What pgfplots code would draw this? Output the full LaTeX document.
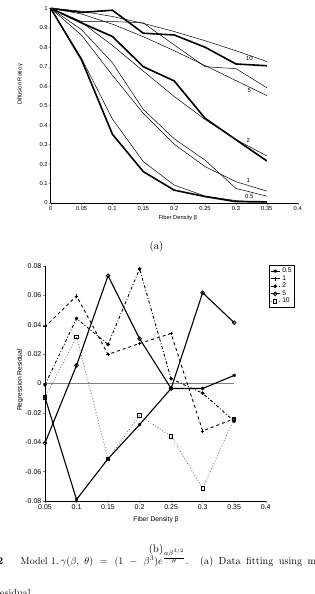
\documentclass[border=0pt]{standalone}
\usepackage{pgfplots}
\pgfplotsset{compat=1.18}
\usepackage{fontspec}
\newfontfamily\helv{Liberation Sans}
\begin{document}
\begin{tikzpicture}[x=1pt,y=1pt]
\path[use as bounding box] (0,0) rectangle (314,594);
\clip (0,0) rectangle (314,594);

% ---------------- (a) ----------------
\begin{axis}[
 at={(50.7pt,391pt)}, anchor=south west,
 scale only axis, width=247pt, height=194.7pt,
 xmin=0, xmax=0.4, ymin=0, ymax=1,
 axis x line*=bottom, axis y line*=left,
 axis line style={line width=0.5pt},
 tick align=outside, major tick length=1.8pt,
 tick style={line width=0.4pt},
 xtick={0,0.05,0.1,0.15,0.2,0.25,0.3,0.35,0.4},
 ytick={0,0.1,0.2,0.3,0.4,0.5,0.6,0.7,0.8,0.9,1},
 scaled ticks=false,
 /pgf/number format/assume math mode=true,
 /pgf/number format/fixed,
 /pgf/number format/precision=2,
 tick label style={font=\helv\fontsize{5.8}{6}\selectfont},
 xticklabel style={inner sep=1pt},
 yticklabel style={inner sep=1pt},
 xlabel={Fiber Density β}, ylabel={Diffusion Ratio γ},
 label style={font=\helv\fontsize{5.7}{6}\selectfont},
 xlabel style={at={(axis description cs:0.515,-0.077)}, anchor=center},
 ylabel style={at={(axis description cs:-0.124,0.611)}, anchor=center},
 clip=false,
]
% data (thick)
\addplot[black, line width=1.6pt] coordinates {(0,1) (0.05,0.735) (0.1,0.353) (0.15,0.161) (0.2,0.066) (0.25,0.033) (0.3,0.007) (0.35,0.006)};
\addplot[black, line width=1.6pt] coordinates {(0,1) (0.05,0.925) (0.1,0.855) (0.15,0.70) (0.2,0.627) (0.25,0.435) (0.3,0.325) (0.35,0.216)};
\addplot[black, line width=1.6pt] coordinates {(0,1) (0.05,0.979) (0.1,0.99) (0.15,0.872) (0.2,0.863) (0.25,0.80) (0.3,0.714) (0.35,0.705)};
% data (thin)
\addplot[black, line width=0.5pt] coordinates {(0,1) (0.05,0.89) (0.1,0.72) (0.15,0.48) (0.2,0.33) (0.25,0.22) (0.3,0.075) (0.35,0.035)};
\addplot[black, line width=0.5pt] coordinates {(0,1) (0.05,0.932) (0.1,0.932) (0.15,0.925) (0.2,0.812) (0.25,0.70) (0.3,0.69) (0.35,0.592)};
% fits
\addplot[black, line width=0.5pt] coordinates {(0,1) (0.05,0.7427) (0.1,0.4308) (0.15,0.2126) (0.2,0.0919) (0.25,0.0354) (0.3,0.0123) (0.35,0.0039)};
\addplot[black, line width=0.5pt] coordinates {(0,1) (0.05,0.8617) (0.1,0.6560) (0.15,0.4602) (0.2,0.3020) (0.25,0.1867) (0.3,0.1094) (0.35,0.0610)};
\addplot[black, line width=0.5pt] coordinates {(0,1) (0.05,0.9282) (0.1,0.8095) (0.15,0.6773) (0.2,0.5473) (0.25,0.4287) (0.3,0.3262) (0.35,0.2416)};
\addplot[black, line width=0.5pt] coordinates {(0,1) (0.05,0.9706) (0.1,0.9184) (0.15,0.8539) (0.2,0.7820) (0.25,0.7059) (0.3,0.6285) (0.35,0.5518)};
\addplot[black, line width=0.5pt] coordinates {(0,1) (0.05,0.9851) (0.1,0.9578) (0.15,0.9225) (0.2,0.8807) (0.25,0.8336) (0.3,0.7820) (0.35,0.7267)};
\begin{scope}[every node/.style={font=\helv\fontsize{6}{6}\selectfont, inner sep=0pt}]
\node at (axis cs:0.3216,0.740) {10};
\node at (axis cs:0.3216,0.577) {5};
\node at (axis cs:0.32,0.320) {2};
\node at (axis cs:0.32,0.118) {1};
\node at (axis cs:0.3216,0.036) {0.5};
\end{scope}
\end{axis}

\node[font=\fontsize{10.8}{13}\selectfont] at (156.5pt,347pt) {(a)};

% ---------------- (b) ----------------
\begin{axis}[
 at={(45pt,93pt)}, anchor=south west,
 scale only axis, width=220.7pt, height=235pt,
 xmin=0.05, xmax=0.4, ymin=-0.08, ymax=0.08,
 axis x line*=bottom, axis y line*=left,
 axis line style={line width=0.5pt},
 tick align=outside, major tick length=2pt,
 tick style={line width=0.4pt},
 xtick={0.05,0.1,0.15,0.2,0.25,0.3,0.35,0.4},
 ytick={-0.08,-0.06,-0.04,-0.02,0,0.02,0.04,0.06,0.08},
 scaled ticks=false,
 /pgf/number format/assume math mode=true,
 /pgf/number format/fixed,
 /pgf/number format/precision=2,
 tick label style={font=\helv\fontsize{7}{7}\selectfont},
 xticklabel style={inner sep=1.2pt},
 yticklabel style={inner sep=1.5pt},
 xlabel={Fiber Density β}, ylabel={Regression Residual},
 label style={font=\helv\fontsize{6.7}{7}\selectfont},
 xlabel style={at={(axis description cs:0.503,-0.081)}, anchor=center},
 ylabel style={at={(axis description cs:-0.113,0.515)}, anchor=center},
 clip=false,
 legend style={at={(axis description cs:1.015,1.004)}, anchor=north west,
   font=\helv\fontsize{6.7}{7}\selectfont, draw=black, line width=0.5pt,
   inner sep=0.8pt, row sep=-2.6pt, cells={anchor=west}},
 legend image code/.code={\draw[mark repeat=2,mark phase=2] plot coordinates {(0cm,0cm) (0.16cm,0cm) (0.32cm,0cm)};},
]
\addplot[gray, line width=0.5pt, forget plot] coordinates {(0.05,0) (0.35,0)};
\addplot[black, line width=1.1pt, mark=asterisk, mark size=1.8pt, mark options={solid, line width=0.8pt}] coordinates {(0.05,-0.0095) (0.1,-0.079) (0.15,-0.0512) (0.2,-0.028) (0.25,-0.0034) (0.3,-0.0034) (0.35,0.0055)};
\addplot[black, line width=0.9pt, dashed, mark=+, mark size=1.8pt, mark options={solid, line width=0.7pt}] coordinates {(0.05,0.0386) (0.1,0.0596) (0.15,0.0198) (0.2,0.0273) (0.25,0.0340) (0.3,-0.0323) (0.35,-0.0240)};
\addplot[black, line width=0.9pt, dash dot, mark=*, mark size=1.3pt, mark options={solid}] coordinates {(0.05,-0.0009) (0.1,0.0443) (0.15,0.0266) (0.2,0.0780) (0.25,0.0032) (0.3,-0.0066) (0.35,-0.0257)};
\addplot[black, line width=1.1pt, mark=o, mark size=1.9pt, mark options={solid, line width=0.8pt}] coordinates {(0.05,-0.0405) (0.1,0.0123) (0.15,0.0734) (0.2,0.0305) (0.25,-0.0034) (0.3,0.0618) (0.35,0.0414)};
\addplot[black!60, line width=0.8pt, dotted, mark=square, mark size=1.7pt, mark options={solid, black, line width=0.8pt}] coordinates {(0.05,-0.0095) (0.1,0.0316) (0.15,-0.0512) (0.2,-0.0218) (0.25,-0.0359) (0.3,-0.0713) (0.35,-0.0240)};
\legend{0.5,1,2,5,10}
\end{axis}

\node[font=\fontsize{10.8}{13}\selectfont] at (156pt,44pt) {(b)};

% caption (cropped)
\begin{scope}[every node/.style={inner sep=0pt, font=\fontsize{10.2}{13}\selectfont}]
\node[anchor=base east] at (3.4pt,29.7pt) {\textbf{Figure 2}};
\node[anchor=base west, font=\fontsize{9.9}{13}\selectfont] at (20.5pt,29.7pt) {Model 1.};
\node[anchor=base west] at (60.5pt,29.7pt) {$\gamma(\beta,\ \theta)\hspace{4pt}=\hspace{4pt}(1\hspace{4pt}-\hspace{4pt}\beta^3)e^{\frac{\scriptstyle a\beta^{3/2}}{\scriptstyle\theta}}$.};
\node[anchor=base west] at (200pt,29.7pt) {(a)\hspace{5.5pt}Data\hspace{5.5pt}fitting\hspace{5.5pt}using\hspace{5.5pt}model};
\node[anchor=base west] at (-4.2pt,-2.2pt) {residual.};
\end{scope}
\end{tikzpicture}
\end{document}
